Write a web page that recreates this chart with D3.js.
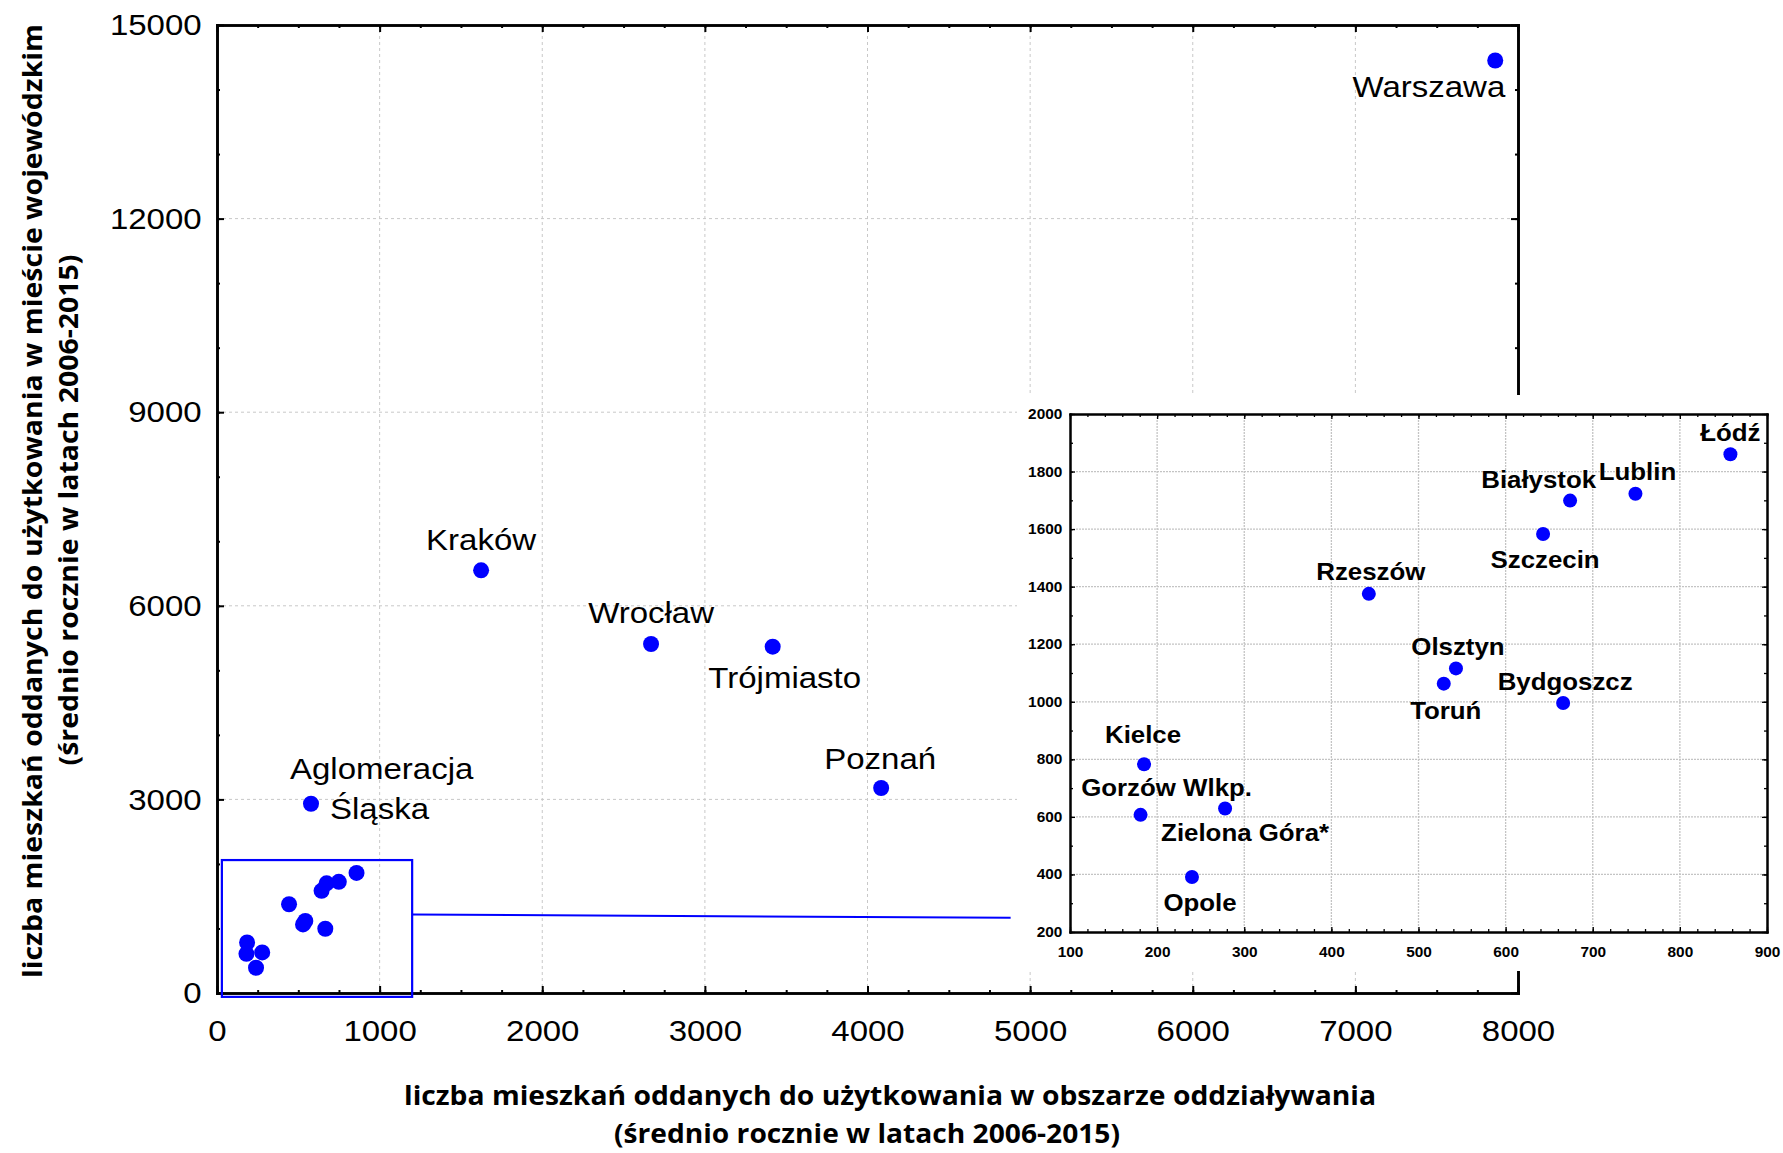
<!DOCTYPE html>
<html>
<head>
<meta charset="utf-8">
<script src="https://cdn.jsdelivr.net/npm/d3@7"></script>
<style>
  body { margin: 0; background: #fff; }
</style>
</head>
<body>
<div id="chart"></div>
<script>
// big agglomerations (main plot only)
const bigCities = ['Warszawa', 'Kraków', 'Wrocław', 'Trójmiasto', 'Poznań', 'Aglomeracja Śląska'];
const bigSuburb = [7860, 1624, 2669, 3417, 4084, 578];      // flats in the zone of influence
const bigCity = [14450, 6550, 5408, 5366, 3177, 2933];      // flats in the voivodeship city

// smaller cities (main plot + zoomed inset)
const smallCities = ['Łódź', 'Lublin', 'Białystok', 'Szczecin', 'Rzeszów', 'Olsztyn',
  'Toruń', 'Bydgoszcz', 'Kielce', 'Gorzów Wlkp.', 'Zielona Góra*', 'Opole'];
const smallSuburb = [858, 749, 674, 643, 443, 543, 529, 666, 185, 181, 278, 240];
const smallCity = [1860, 1723, 1699, 1583, 1375, 1116, 1063, 996, 783, 607, 629, 391];

// axis ticks
const mainXTicks = [0, 1000, 2000, 3000, 4000, 5000, 6000, 7000, 8000];
const mainYTicks = [0, 3000, 6000, 9000, 12000, 15000];
const insetXTicks = [100, 200, 300, 400, 500, 600, 700, 800, 900];
const insetYTicks = [200, 400, 600, 800, 1000, 1200, 1400, 1600, 1800, 2000];

// zoom rectangle + connector, in main-plot data units
const zoomBox = { x0: 30, x1: 1200, y0: -60, y1: 2060 };
const connector = [[1205, 1215], [4880, 1165]];

const xTitle = ['liczba mieszkań oddanych do użytkowania w obszarze oddziaływania', '(średnio rocznie w latach 2006-2015)'];
const yTitle = ['liczba mieszkań oddanych do użytkowania w mieście wojewódzkim', '(średnio rocznie w latach 2006-2015)'];

// label placement (pixels relative to the dot)
const mainLabelPos = {
  'Warszawa': [{ t: 'Warszawa', dx: 10, dy: 37, a: 'end' }],
  'Kraków': [{ t: 'Kraków', dx: 0, dy: -20, a: 'middle' }],
  'Wrocław': [{ t: 'Wrocław', dx: 0, dy: -21, a: 'middle' }],
  'Trójmiasto': [{ t: 'Trójmiasto', dx: 12, dy: 41, a: 'middle' }],
  'Poznań': [{ t: 'Poznań', dx: -1, dy: -19, a: 'middle' }],
  'Aglomeracja Śląska': [{ t: 'Aglomeracja', dx: -21, dy: -25, a: 'start' }, { t: 'Śląska', dx: 19, dy: 15, a: 'start' }]
};
const insetLabelPos = {
  'Łódź': { dx: 0, dy: -13, a: 'middle' },
  'Lublin': { dx: 2, dy: -14, a: 'middle' },
  'Białystok': { dx: 26, dy: -13, a: 'end' },
  'Szczecin': { dx: 2, dy: 34, a: 'middle' },
  'Rzeszów': { dx: 2, dy: -14, a: 'middle' },
  'Olsztyn': { dx: 2, dy: -13, a: 'middle' },
  'Toruń': { dx: 2, dy: 35, a: 'middle' },
  'Bydgoszcz': { dx: 2, dy: -13, a: 'middle' },
  'Kielce': { dx: -1, dy: -21, a: 'middle' },
  'Gorzów Wlkp.': { dx: 26, dy: -19, a: 'middle' },
  'Zielona Góra*': { dx: 20, dy: 32, a: 'middle' },
  'Opole': { dx: 8, dy: 34, a: 'middle' }
};

const W = 1783, H = 1153;
const SX = 1.1; // the original figure is slightly stretched horizontally
const FONT = '"Liberation Sans", Arial, sans-serif';
const TITLE_FONT = '"Open Sans", "DejaVu Sans", sans-serif';
const BLUE = '#0000ff';

const bigData = bigCities.map((c, i) => ({ name: c, x: bigSuburb[i], y: bigCity[i] }));
const smallData = smallCities.map((c, i) => ({ name: c, x: smallSuburb[i], y: smallCity[i] }));

const svg = d3.select('#chart').append('svg')
  .attr('width', W)
  .attr('height', H)
  .style('font-family', FONT);

// Draw one axis with inward minor + major ticks
function addAxis(parent, orient, scale, pos, opt) {
  const make = { bottom: d3.axisBottom, top: d3.axisTop, left: d3.axisLeft, right: d3.axisRight }[orient];
  const horiz = orient === 'bottom' || orient === 'top';
  const g = parent.append('g').attr('transform', horiz ? `translate(0,${pos})` : `translate(${pos},0)`);

  g.append('g').call(make(scale).tickValues(opt.minor).tickSize(-opt.minorLen).tickSizeOuter(0).tickFormat(''));
  const major = g.append('g').call(make(scale).tickValues(opt.major).tickSize(-opt.majorLen).tickSizeOuter(0)
    .tickPadding(opt.pad || 0).tickFormat(opt.labels ? d3.format('d') : () => ''));

  g.selectAll('path.domain').attr('stroke', '#000').attr('stroke-width', opt.lineW).attr('stroke-linecap', 'square');
  g.selectAll('.tick line').attr('stroke', '#000').attr('stroke-width', opt.tickW);
  major.attr('font-family', FONT).attr('font-size', opt.fontSize || 10);
  major.selectAll('text')
    .attr('fill', '#000')
    .attr('font-weight', opt.bold ? 'bold' : 'normal')
    .attr('transform', `scale(${SX},1)`);
  return g;
}

function grid(parent, xs, ys, xVals, yVals, style) {
  const g = parent.append('g');
  const [x0, x1] = xs.range();
  const [y0, y1] = ys.range();
  g.selectAll('.vg').data(xVals).enter().append('line')
    .attr('x1', d => xs(d)).attr('x2', d => xs(d)).attr('y1', y0).attr('y2', y1);
  g.selectAll('.hg').data(yVals).enter().append('line')
    .attr('y1', d => ys(d)).attr('y2', d => ys(d)).attr('x1', x0).attr('x2', x1);
  g.selectAll('line')
    .attr('stroke', style.color)
    .attr('stroke-width', style.width)
    .attr('stroke-dasharray', style.dash);
}

// ---------- main plot ----------
const x = d3.scaleLinear().domain([0, 8000]).range([217, 1518]);
const y = d3.scaleLinear().domain([0, 15000]).range([993, 25]);

grid(svg, x, y, mainXTicks.slice(1, -1), mainYTicks.slice(1, -1), { color: '#c8c8c8', width: 1, dash: '3,3' });

const mainXMinor = d3.range(0, 8001, 250);
const mainYMinor = d3.range(0, 15001, 1000);
const mainOpt = { minorLen: 3, majorLen: 7, lineW: 2.6, tickW: 2 };
addAxis(svg, 'bottom', x, y(0), { ...mainOpt, major: mainXTicks, minor: mainXMinor, labels: true, pad: 27, fontSize: 30 });
addAxis(svg, 'top', x, y(15000), { ...mainOpt, major: mainXTicks, minor: mainXMinor, labels: false });
addAxis(svg, 'left', y, x(0), { ...mainOpt, major: mainYTicks, minor: mainYMinor, labels: true, pad: 14, fontSize: 30 });
addAxis(svg, 'right', y, x(8000), { ...mainOpt, major: mainYTicks, minor: mainYMinor, labels: false });

// zoom rectangle and connector line
svg.append('rect')
  .attr('x', x(zoomBox.x0))
  .attr('y', y(zoomBox.y1))
  .attr('width', x(zoomBox.x1) - x(zoomBox.x0))
  .attr('height', y(zoomBox.y0) - y(zoomBox.y1))
  .attr('fill', 'none')
  .attr('stroke', BLUE)
  .attr('stroke-width', 2.2);

svg.append('line')
  .attr('x1', x(connector[0][0])).attr('y1', y(connector[0][1]))
  .attr('x2', x(connector[1][0])).attr('y2', y(connector[1][1]))
  .attr('stroke', BLUE)
  .attr('stroke-width', 2);

svg.append('g').selectAll('circle')
  .data(bigData.concat(smallData))
  .enter()
  .append('circle')
  .attr('cx', d => x(d.x))
  .attr('cy', d => y(d.y))
  .attr('r', 8)
  .attr('fill', BLUE);

// labels of the big agglomerations
const mainLabels = [];
bigData.forEach(d => {
  mainLabelPos[d.name].forEach(p => mainLabels.push({ ...p, px: x(d.x), py: y(d.y) }));
});
svg.append('g').selectAll('text')
  .data(mainLabels)
  .enter()
  .append('text')
  .attr('transform', d => `translate(${d.px + d.dx},${d.py + d.dy}) scale(${SX},1)`)
  .attr('text-anchor', d => d.a)
  .attr('font-size', 30)
  .attr('fill', '#000')
  .text(d => d.t);

// axis titles
svg.append('g').selectAll('text')
  .data(xTitle)
  .enter()
  .append('text')
  .attr('x', (d, i) => [890, 867][i])
  .attr('y', (d, i) => [1105, 1143][i])
  .attr('text-anchor', 'middle')
  .attr('font-family', TITLE_FONT)
  .attr('font-weight', 'bold')
  .attr('font-size', 27)
  .attr('textLength', (d, i) => [972, 506][i])
  .attr('lengthAdjust', 'spacingAndGlyphs')
  .text(d => d);

svg.append('g').selectAll('text')
  .data(yTitle)
  .enter()
  .append('text')
  .attr('transform', (d, i) => `translate(${[42, 78][i]},${[501, 510][i]}) rotate(-90)`)
  .attr('text-anchor', 'middle')
  .attr('font-family', TITLE_FONT)
  .attr('font-weight', 'bold')
  .attr('font-size', 27)
  .attr('textLength', (d, i) => [954, 511][i])
  .attr('lengthAdjust', 'spacingAndGlyphs')
  .text(d => d);

// ---------- inset ----------
const inset = svg.append('g').attr('class', 'inset');
inset.append('rect')
  .attr('x', 1017).attr('y', 395)
  .attr('width', W - 1017).attr('height', 576)
  .attr('fill', '#fff');

const xi = d3.scaleLinear().domain([100, 900]).range([1070, 1767]);
const yi = d3.scaleLinear().domain([200, 2000]).range([932, 414]);

grid(inset, xi, yi, insetXTicks.slice(1, -1), insetYTicks.slice(1, -1), { color: '#c4c4c4', width: 1.3, dash: '2,1' });

const insetXMinor = d3.range(100, 901, 20);
const insetYMinor = d3.range(200, 2001, 100);
const insetOpt = { minorLen: 3, majorLen: 5, lineW: 2, tickW: 1.3 };
addAxis(inset, 'bottom', xi, yi(200), { ...insetOpt, major: insetXTicks, minor: insetXMinor, labels: true, bold: true, pad: 15, fontSize: 14 });
addAxis(inset, 'top', xi, yi(2000), { ...insetOpt, major: insetXTicks, minor: insetXMinor, labels: false });
addAxis(inset, 'left', yi, xi(100), { ...insetOpt, major: insetYTicks, minor: insetYMinor, labels: true, bold: true, pad: 7, fontSize: 14 });
addAxis(inset, 'right', yi, xi(900), { ...insetOpt, major: insetYTicks, minor: insetYMinor, labels: false });

inset.append('g').selectAll('circle')
  .data(smallData)
  .enter()
  .append('circle')
  .attr('cx', d => xi(d.x))
  .attr('cy', d => yi(d.y))
  .attr('r', 7)
  .attr('fill', BLUE);

inset.append('g').selectAll('text')
  .data(smallData)
  .enter()
  .append('text')
  .attr('transform', d => {
    const p = insetLabelPos[d.name];
    return `translate(${xi(d.x) + p.dx},${yi(d.y) + p.dy}) scale(${SX},1)`;
  })
  .attr('text-anchor', d => insetLabelPos[d.name].a)
  .attr('font-size', 23.5)
  .attr('font-weight', 'bold')
  .attr('fill', '#000')
  .text(d => d.name);
</script>
</body>
</html>
